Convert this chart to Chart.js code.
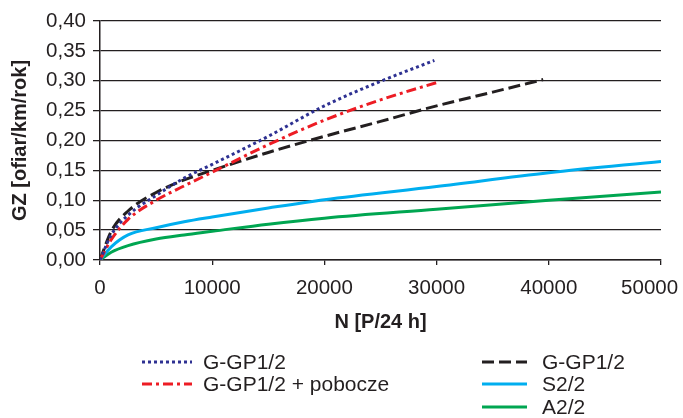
<!DOCTYPE html>
<html>
<head>
<meta charset="utf-8">
<script src="https://cdn.jsdelivr.net/npm/chart.js@4/dist/chart.umd.min.js"></script>
<style>
  html, body { margin: 0; padding: 0; background: #fff; }
  #wrap { width: 683px; height: 418px; position: relative; }
</style>
</head>
<body>
<div id="wrap"><canvas id="chart"></canvas></div>
<script>
// N [P/24 h] and GZ values
const nGGP = [0, 1000, 2500, 5000, 7500, 10000, 15000, 20000, 25000, 29800];
const gzGGP = [0, 0.042, 0.075, 0.108, 0.137, 0.160, 0.207, 0.258, 0.299, 0.334];

const nGGPPob = [0, 1000, 2500, 5000, 7500, 10000, 15000, 20000, 25000, 30200];
const gzGGPPob = [0, 0.034, 0.068, 0.100, 0.124, 0.147, 0.193, 0.234, 0.268, 0.298];

const nGGP2 = [0, 1000, 2500, 5000, 7500, 10000, 15000, 20000, 25000, 30000, 35000, 39500];
const gzGGP2 = [0, 0.048, 0.082, 0.113, 0.134, 0.150, 0.180, 0.207, 0.232, 0.258, 0.281, 0.302];

const nLong = [0, 1000, 2500, 5000, 7500, 10000, 15000, 20000, 30000, 40000, 50000];
const gzS = [0, 0.022, 0.042, 0.054, 0.064, 0.072, 0.087, 0.101, 0.123, 0.146, 0.165];
const gzA = [0, 0.013, 0.024, 0.035, 0.042, 0.048, 0.060, 0.070, 0.085, 0.100, 0.114];

const xTicks = [0, 10000, 20000, 30000, 40000, 50000];
const yTicks = [0, 0.05, 0.10, 0.15, 0.20, 0.25, 0.30, 0.35, 0.40];

const ink = '#231f20';
const font = 'Liberation Sans, Arial, sans-serif';

const pts = (xs, ys) => xs.map((x, i) => ({ x: x, y: ys[i] }));

const datasets = [
    { label: 'G-GP1/2', data: pts(nGGP, gzGGP), borderColor: '#2e3192', borderDash: [3, 3], col: 0, row: 0 },
    { label: 'G-GP1/2 + pobocze', data: pts(nGGPPob, gzGGPPob), borderColor: '#ed1c24', borderDash: [10, 4, 3, 4], col: 0, row: 1 },
    { label: 'G-GP1/2', data: pts(nGGP2, gzGGP2), borderColor: ink, borderDash: [12, 5], col: 1, row: 0 },
    { label: 'S2/2', data: pts(nLong, gzS), borderColor: '#00aeef', borderDash: [], col: 1, row: 1 },
    { label: 'A2/2', data: pts(nLong, gzA), borderColor: '#00a651', borderDash: [], col: 1, row: 2 }
];
datasets.forEach(d => {
    d.borderWidth = 3;
    d.pointRadius = 0;
    d.fill = false;
    d.cubicInterpolationMode = 'monotone';
});

// legend below the plot, two columns
const legendBox = {
    id: 'legendBox',
    afterDraw(chart) {
        const c = chart.ctx;
        const cols = [{ x0: 142, x1: 192, tx: 203 }, { x0: 482, x1: 527, tx: 542 }];
        const rows = [362, 384, 407];
        c.save();
        c.font = '21px ' + font;
        c.textBaseline = 'middle';
        chart.data.datasets.forEach(d => {
            const col = cols[d.col];
            const y = rows[d.row];
            c.strokeStyle = d.borderColor;
            c.lineWidth = 3;
            c.setLineDash(d.borderDash);
            c.beginPath();
            c.moveTo(col.x0, y);
            c.lineTo(col.x1, y);
            c.stroke();
            c.setLineDash([]);
            c.fillStyle = ink;
            c.fillText(d.label, col.tx, y + 1);
        });
        c.restore();
    }
};

new Chart(document.getElementById('chart'), {
    type: 'line',
    data: { datasets: datasets },
    options: {
        responsive: true,
        maintainAspectRatio: false,
        animation: false,
        layout: { padding: { top: 21, right: 22, left: 0, bottom: 0 } },
        plugins: { legend: { display: false }, tooltip: { enabled: false } },
        scales: {
            x: {
                type: 'linear',
                min: 0,
                max: 50000,
                afterFit: s => { s.height = 158; s.paddingLeft = 0; s.paddingRight = 0; },
                afterBuildTicks: s => { s.ticks = xTicks.map(v => ({ value: v })); },
                border: { color: ink, width: 1.5 },
                grid: { drawOnChartArea: false, color: ink, tickLength: 5, lineWidth: 1.3 },
                ticks: {
                    color: ink,
                    padding: 11,
                    maxRotation: 0,
                    font: { family: font, size: 20.5 },
                    // last label is pulled inside the page, as in the original
                    callback: (v, i) => i === xTicks.length - 1 ? String(v) + '    ' : String(v)
                },
                title: {
                    display: true,
                    text: 'N [P/24 h]',
                    color: ink,
                    font: { family: font, size: 20, weight: 'bold' },
                    padding: { top: 0, bottom: 84 }
                }
            },
            y: {
                min: 0,
                max: 0.40,
                afterFit: s => { s.width = 100; },
                afterBuildTicks: s => { s.ticks = yTicks.map(v => ({ value: v })); },
                border: { color: ink, width: 1.5 },
                grid: { color: ink, tickLength: 7, lineWidth: 1.3 },
                ticks: {
                    color: ink,
                    padding: 7,
                    font: { family: font, size: 20.5 },
                    callback: v => v.toFixed(2).replace('.', ',')
                },
                title: {
                    display: true,
                    text: 'GZ [ofiar/km/rok]',
                    color: ink,
                    font: { family: font, size: 20, weight: 'bold' },
                    padding: { top: 8, bottom: 0 }
                }
            }
        }
    },
    plugins: [legendBox]
});
</script>
</body>
</html>
